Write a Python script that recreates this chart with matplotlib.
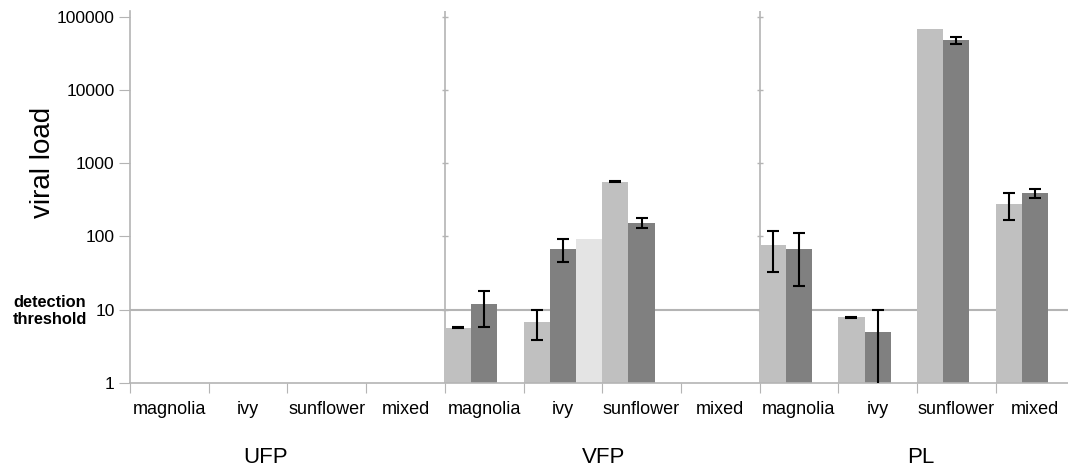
"""
Viral load per plant type and feeding group, log scale bar chart
"""
import numpy as np
import matplotlib
matplotlib.use("Agg")
import matplotlib.pyplot as plt

plt.rcParams['font.family'] = ['Liberation Sans', 'DejaVu Sans']

nan = np.nan

# data
groups = ['UFP', 'VFP', 'PL']
plants = ['magnolia', 'ivy', 'sunflower', 'mixed']
categories = plants * 3

light = [nan, nan, nan, nan, 5.7, 6.9, 560, nan, 76, 7.9, 68500, 280]
light_err = [nan, nan, nan, nan, 0.15, 3.0, 10, nan, 43, 0.1, nan, 113]
dark = [nan, nan, nan, nan, 12, 68, 154, nan, 67, 5.0, 47400, 388]
dark_err = [nan, nan, nan, nan, 6.2, 23, 25, nan, 46, 4.9, 5000, 53]
pale = [nan, nan, nan, nan, nan, 92, nan, nan, nan, nan, nan, nan]

yticks = [1, 10, 100, 1000, 10000, 100000]
threshold = 10

grey = '#b4b4b4'

fig = plt.figure(figsize=(10.68, 4.71), dpi=100)
ax = fig.add_axes([130/1068, 1 - 383/471, 944.4/1068, 372/471])

n = len(categories)
x = np.arange(n)
w = 1/3

ax.axhline(threshold, color=grey, lw=1.5, zorder=1)
for sep in [4, 8]:
    ax.axvline(sep, color=grey, lw=1.2, zorder=1)
    ax.plot([sep]*(len(yticks)-1), yticks[1:], ls='none', marker='_',
            ms=5, mew=1, color=grey, zorder=1)

series = [(light, light_err, '#c0c0c0'),
          (dark, dark_err, '#808080'),
          (pale, None, '#e4e4e4')]
for j, (vals, errs, col) in enumerate(series):
    xs = x + j*w + w/2
    vals = np.array(vals, float)
    ok = ~np.isnan(vals)
    ax.bar(xs[ok], vals[ok], width=w, color=col, edgecolor='none', zorder=2)
    if errs is not None:
        ax.errorbar(xs, vals, yerr=errs, fmt='none', ecolor='black',
                    elinewidth=1.5, capsize=4.5, capthick=1.5, zorder=3)

ax.set_yscale('log')
ax.set_ylim(1, 10**5.078)
ax.set_xlim(0, n)

ax.set_yticks(yticks)
ax.set_yticklabels([str(t) for t in yticks])
ax.yaxis.set_minor_locator(matplotlib.ticker.NullLocator())
ax.tick_params(axis='y', length=8, color=grey, labelsize=12.5, pad=3)

ax.set_xticks(np.arange(n+1))
ax.set_xticklabels([])
ax.set_xticks(x + 0.5, minor=True)
ax.set_xticklabels(categories, minor=True)
ax.tick_params(axis='x', which='major', length=7, color=grey)
ax.tick_params(axis='x', which='minor', length=0, labelsize=13, pad=13)

for s in ['top', 'right']:
    ax.spines[s].set_visible(False)
for s in ['left', 'bottom']:
    ax.spines[s].set_color(grey)
    ax.spines[s].set_linewidth(1.2)

# group names sit a bit off the group centres in the original
trans = ax.get_xaxis_transform()
for g, gx in zip(groups, [1.72, 6.02, 10.05]):
    ax.text(gx, -0.199, g, transform=trans, ha='center', va='center',
            fontsize=16)

fig.text(43/1068, 1 - 162/471, 'viral load', rotation=90, ha='center',
         va='center', fontsize=20)
fig.text(13/1068, 1 - 311/471, 'detection\nthreshold', ha='left',
         va='center', fontsize=11.8, fontweight='bold', linespacing=1.2)

fig.savefig('out.png', dpi=100)
